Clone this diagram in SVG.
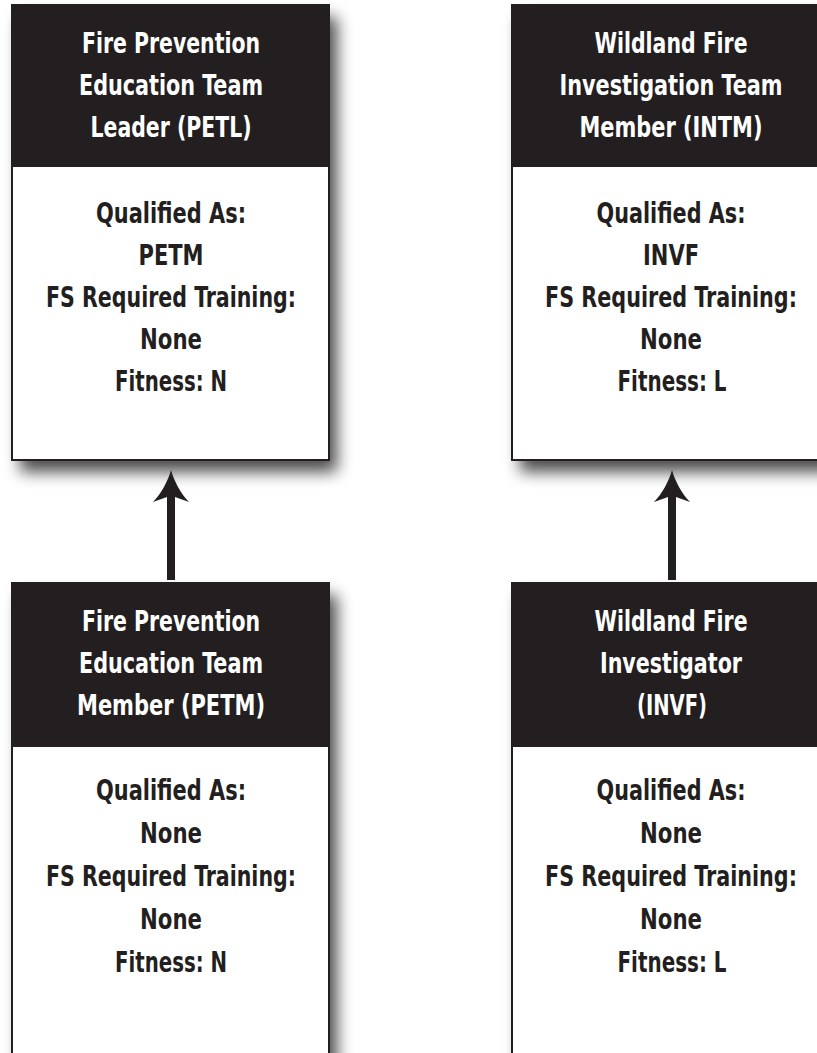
<svg xmlns="http://www.w3.org/2000/svg" width="817" height="1053" viewBox="0 0 817 1053">
  <defs>
    <filter id="shadow" x="-20%" y="-20%" width="140%" height="140%">
      <feGaussianBlur stdDeviation="8"/>
    </filter>
    <style>
      .shadow { fill: #000; opacity: 0.7; filter: url(#shadow); }
      .body { fill: #ffffff; stroke: #231f20; stroke-width: 2; }
      .head { fill: #231f20; }
      text { font-family: "Liberation Sans Narrow", "DejaVu Sans Condensed", "Liberation Sans", sans-serif; font-weight: bold; font-size: 29px; text-anchor: middle; }
      .ht { fill: #ffffff; }
      .bt { fill: #231f20; }
      .arrow { fill: #231f20; }
    </style>
  </defs>
  <rect x="0" y="0" width="817" height="1053" fill="#ffffff"/>

  <g id="node-petl">
    <rect class="shadow" x="20" y="17" width="317" height="455"/>
    <rect class="body" x="12" y="5" width="317" height="455"/>
    <rect class="head" x="12" y="5" width="317" height="162"/>
    <text class="ht" x="171" y="53" textLength="178" lengthAdjust="spacingAndGlyphs">Fire Prevention</text>
    <text class="ht" x="171" y="95" textLength="184" lengthAdjust="spacingAndGlyphs">Education Team</text>
    <text class="ht" x="171" y="137" textLength="161" lengthAdjust="spacingAndGlyphs">Leader (PETL)</text>
    <text class="bt" x="171" y="223" textLength="150" lengthAdjust="spacingAndGlyphs">Qualified As:</text>
    <text class="bt" x="171" y="265" textLength="65" lengthAdjust="spacingAndGlyphs">PETM</text>
    <text class="bt" x="171" y="307" textLength="250" lengthAdjust="spacingAndGlyphs">FS Required Training:</text>
    <text class="bt" x="171" y="349" textLength="62" lengthAdjust="spacingAndGlyphs">None</text>
    <text class="bt" x="171" y="391" textLength="112" lengthAdjust="spacingAndGlyphs">Fitness: N</text>
  </g>

  <g id="node-intm">
    <rect class="shadow" x="520" y="17" width="317" height="455"/>
    <rect class="body" x="512" y="5" width="317" height="455"/>
    <rect class="head" x="512" y="5" width="317" height="162"/>
    <text class="ht" x="671" y="53" textLength="153" lengthAdjust="spacingAndGlyphs">Wildland Fire</text>
    <text class="ht" x="671" y="95" textLength="223" lengthAdjust="spacingAndGlyphs">Investigation Team</text>
    <text class="ht" x="671" y="137" textLength="183" lengthAdjust="spacingAndGlyphs">Member (INTM)</text>
    <text class="bt" x="671" y="223" textLength="149" lengthAdjust="spacingAndGlyphs">Qualified As:</text>
    <text class="bt" x="671" y="265" textLength="56" lengthAdjust="spacingAndGlyphs">INVF</text>
    <text class="bt" x="671" y="307" textLength="252" lengthAdjust="spacingAndGlyphs">FS Required Training:</text>
    <text class="bt" x="671" y="349" textLength="62" lengthAdjust="spacingAndGlyphs">None</text>
    <text class="bt" x="672" y="391" textLength="109" lengthAdjust="spacingAndGlyphs">Fitness: L</text>
  </g>

  <g id="node-petm">
    <rect class="shadow" x="20" y="595" width="317" height="500"/>
    <rect class="body" x="12" y="583" width="317" height="500"/>
    <rect class="head" x="12" y="583" width="317" height="164"/>
    <text class="ht" x="171" y="631" textLength="178" lengthAdjust="spacingAndGlyphs">Fire Prevention</text>
    <text class="ht" x="171" y="673" textLength="184" lengthAdjust="spacingAndGlyphs">Education Team</text>
    <text class="ht" x="171" y="715" textLength="188" lengthAdjust="spacingAndGlyphs">Member (PETM)</text>
    <text class="bt" x="171" y="800" textLength="150" lengthAdjust="spacingAndGlyphs">Qualified As:</text>
    <text class="bt" x="171" y="843" textLength="62" lengthAdjust="spacingAndGlyphs">None</text>
    <text class="bt" x="171" y="886" textLength="250" lengthAdjust="spacingAndGlyphs">FS Required Training:</text>
    <text class="bt" x="171" y="929" textLength="62" lengthAdjust="spacingAndGlyphs">None</text>
    <text class="bt" x="171" y="972" textLength="112" lengthAdjust="spacingAndGlyphs">Fitness: N</text>
  </g>

  <g id="node-invf">
    <rect class="shadow" x="520" y="595" width="317" height="500"/>
    <rect class="body" x="512" y="583" width="317" height="500"/>
    <rect class="head" x="512" y="583" width="317" height="164"/>
    <text class="ht" x="671" y="631" textLength="153" lengthAdjust="spacingAndGlyphs">Wildland Fire</text>
    <text class="ht" x="671" y="673" textLength="142" lengthAdjust="spacingAndGlyphs">Investigator</text>
    <text class="ht" x="672" y="715" textLength="70" lengthAdjust="spacingAndGlyphs">(INVF)</text>
    <text class="bt" x="671" y="800" textLength="149" lengthAdjust="spacingAndGlyphs">Qualified As:</text>
    <text class="bt" x="671" y="843" textLength="62" lengthAdjust="spacingAndGlyphs">None</text>
    <text class="bt" x="671" y="886" textLength="252" lengthAdjust="spacingAndGlyphs">FS Required Training:</text>
    <text class="bt" x="671" y="929" textLength="62" lengthAdjust="spacingAndGlyphs">None</text>
    <text class="bt" x="672" y="972" textLength="109" lengthAdjust="spacingAndGlyphs">Fitness: L</text>
  </g>

  <g id="connectors">
    <path class="arrow" d="M171,470 C174,481 181,494 189,502 L175,497 L175,580 L167,580 L167,497 L153,502 C161,494 168,481 171,470 Z"/>
    <path class="arrow" d="M672,470 C675,481 682,494 690,502 L676,497 L676,580 L668,580 L668,497 L654,502 C662,494 669,481 672,470 Z"/>
  </g>
</svg>
